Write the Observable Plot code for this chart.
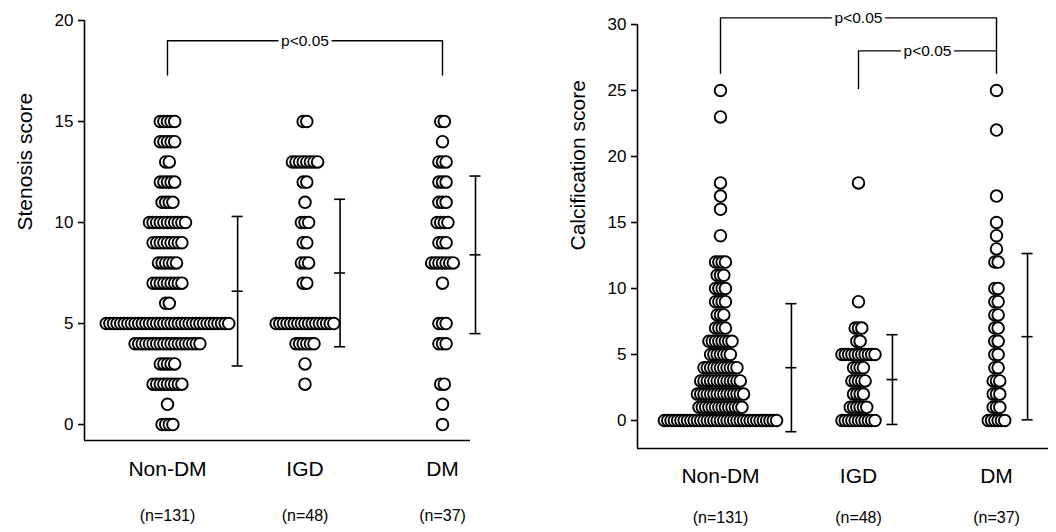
<!DOCTYPE html>
<html><head><meta charset="utf-8">
<script src="https://cdn.jsdelivr.net/npm/d3@7"></script>
<script src="https://cdn.jsdelivr.net/npm/@observablehq/plot@0.6"></script>
<style>
body{margin:0;background:#fff;}
#wrap{position:relative;width:1056px;height:532px;overflow:hidden;}
#left,#right{position:absolute;top:0;}
#left{left:0px;} #right{left:528px;}
</style></head><body>
<div id="wrap"><div id="left"></div><div id="right"></div></div>
<script>
// ---------- data ----------
const groups = ["Non-DM", "IGD", "DM"];
const groupN = [131, 48, 37];

// Stenosis score: values and number of patients at each value
const stenNonDMScore = [15,14,13,12,11,10,9,8,7,6,5,4,3,2,1,0];
const stenNonDMCount = [5,5,2,5,4,11,9,6,9,2,35,19,5,9,1,4];
const stenIGDScore   = [15,13,12,11,10,9,8,7,5,4,3,2];
const stenIGDCount   = [2,8,2,1,3,2,3,2,17,6,1,1];
const stenDMScore    = [15,14,13,12,11,10,9,8,7,5,4,2,1,0];
const stenDMCount    = [2,1,3,3,3,4,3,7,1,3,3,2,1,1];
const stenMean = [6.6, 7.5, 8.4];
const stenSD   = [3.7, 3.65, 3.9];
const stenTicks = [0, 5, 10, 15, 20];

// Calcification score
const calcNonDMScore = [25,23,18,17,16,14,12,11,10,9,8,7,6,5,4,3,2,1,0];
const calcNonDMCount = [1,1,1,1,1,1,4,3,4,4,3,4,8,7,11,13,15,14,35];
const calcIGDScore   = [18,9,7,6,5,4,3,2,1,0];
const calcIGDCount   = [1,1,3,2,11,4,5,4,6,11];
const calcDMScore    = [25,22,17,15,14,13,12,10,9,8,7,6,5,4,3,2,1,0];
const calcDMCount    = [1,1,1,1,1,1,2,2,2,2,2,2,2,2,3,3,3,6];
const calcMean = [4.0, 3.1, 6.35];
const calcSD   = [4.85, 3.4, 6.3];
const calcTicks = [0, 5, 10, 15, 20, 25, 30];

// significance brackets: [fromGroup, toGroup, level, legFromBottom, legToBottom, label]
const stenBrFrom = [0], stenBrTo = [2], stenBrLevel = [19.0], stenBrLegA = [17.3], stenBrLegB = [17.3], stenBrText = ["p<0.05"];
const calcBrFrom = [0, 1], calcBrTo = [2, 2], calcBrLevel = [30.5, 28.0], calcBrLegA = [26.3, 25.15], calcBrLegB = [26.3, 28.0], calcBrText = ["p<0.05", "p<0.05"];

// ---------- helpers ----------
function dotRows(scoresList, countsList, step) {
  const out = [];
  scoresList.forEach((scores, g) => {
    scores.forEach((s, k) => {
      const n = countsList[g][k];
      for (let i = 0; i < n; i++) out.push({x: g + (i - (n - 1) / 2) * step, y: s});
    });
  });
  return out;
}
function brackets(from, to, level, legA, legB, text) {
  const pts = [];
  from.forEach((f, i) => {
    pts.push({id: i, x: f, y: legA[i]}, {id: i, x: f, y: level[i]},
             {id: i, x: to[i], y: level[i]}, {id: i, x: to[i], y: legB[i]});
  });
  const labels = from.map((f, i) => ({x: (f + to[i]) / 2, y: level[i], t: text[i]}));
  return {pts, labels};
}

function panel(o) {
  const dots = dotRows(o.scores, o.counts, o.step);
  const err = groups.map((g, i) => ({x: i + o.errOffset[i], mean: o.mean[i], lo: o.mean[i] - o.sd[i], hi: o.mean[i] + o.sd[i]}));
  const caps = err.flatMap(d => [d.lo, d.mean, d.hi].map(y => ({y, x1: d.x - o.cap, x2: d.x + o.cap})));
  const br = brackets(...o.br);
  return Plot.plot({
    width: o.width, height: 532,
    marginTop: o.mt, marginBottom: o.mb, marginLeft: o.ml, marginRight: o.mr,
    style: {fontFamily: "Liberation Sans, Arial, sans-serif", color: "#000", background: "#fff"},
    x: {domain: o.xd, axis: null},
    y: {domain: o.yd},
    marks: [
      Plot.ruleX([o.xd[0]], {stroke: "#000", strokeWidth: 1.6}),
      Plot.ruleY([o.yd[0]], {stroke: "#000", strokeWidth: 1.6}),
      Plot.axisY({ticks: o.ticks, tickSize: 6, tickPadding: 5, fontSize: 17, label: null, strokeWidth: 1.6}),
      Plot.text([o.ylabel], {frameAnchor: "left", text: d => d, rotate: -90, dx: o.ylDx, dy: o.ylDy, fontSize: 21}),
      Plot.line(br.pts, {x: "x", y: "y", z: "id", stroke: "#000", strokeWidth: 1.4}),
      Plot.text(br.labels, {x: "x", y: "y", text: "t", fontSize: 15.5, fill: "#000", stroke: "#fff", strokeWidth: 7}),
      Plot.ruleX(err, {x: "x", y1: "lo", y2: "hi", stroke: "#000", strokeWidth: 1.6}),
      Plot.ruleY(caps, {y: "y", x1: "x1", x2: "x2", stroke: "#000", strokeWidth: 1.6}),
      Plot.dot(dots, {x: "x", y: "y", r: 5.8, fill: "#fff", stroke: "#000", strokeWidth: 1.9}),
      Plot.text(groups, {x: (d, i) => i, frameAnchor: "bottom", dy: o.catDy, text: d => d, fontSize: 21}),
      Plot.text(groupN, {x: (d, i) => i, frameAnchor: "bottom", dy: o.nDy, text: d => `(n=${d})`, fontSize: 16})
    ]
  });
}

document.getElementById("left").append(panel({
  width: 528, mt: 20, mb: 92, ml: 84, mr: 58,
  xd: [-0.6036, 2.2036], yd: [-0.79, 20], ticks: stenTicks,
  scores: [stenNonDMScore, stenIGDScore, stenDMScore],
  counts: [stenNonDMCount, stenIGDCount, stenDMCount],
  step: 0.0262, mean: stenMean, sd: stenSD, errOffset: [0.51, 0.255, 0.24], cap: 0.04,
  br: [stenBrFrom, stenBrTo, stenBrLevel, stenBrLegA, stenBrLegB, stenBrText],
  ylabel: "Stenosis score", ylDx: -59, ylDy: 0, catDy: 35, nDy: 80
}));
document.getElementById("right").append(panel({
  width: 528, mt: 24, mb: 84, ml: 109, mr: 8,
  xd: [-0.6014, 2.3768], yd: [-2.121, 30], ticks: calcTicks,
  scores: [calcNonDMScore, calcIGDScore, calcDMScore],
  counts: [calcNonDMCount, calcIGDCount, calcDMCount],
  step: 0.0239, mean: calcMean, sd: calcSD, errOffset: [0.514, 0.246, 0.225], cap: 0.04,
  br: [calcBrFrom, calcBrTo, calcBrLevel, calcBrLegA, calcBrLegB, calcBrText],
  ylabel: "Calcification score", ylDx: -59, ylDy: 14, catDy: 34, nDy: 74
}));
</script>
</body></html>
